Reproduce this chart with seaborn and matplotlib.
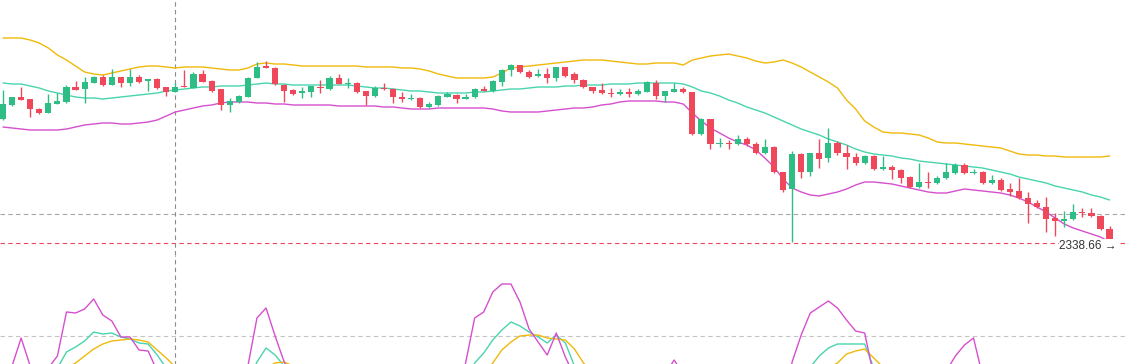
import numpy as np
import pandas as pd
import seaborn as sns
import matplotlib.pyplot as plt

# OHLC per candle
opens = [
    2369.66, 2373.16, 2375.16, 2374.66, 2372.16, 2371.16, 2373.41, 2373.91, 2377.66, 2377.16,
    2378.66, 2380.16, 2378.16, 2380.16, 2378.66, 2380.16, 2379.16, 2379.66, 2377.66, 2376.41,
    2377.91, 2377.41, 2380.91, 2379.16, 2377.16, 2373.16, 2373.91, 2375.16, 2379.91, 2382.91,
    2382.41, 2378.16, 2376.91, 2376.16, 2376.41, 2377.66, 2377.16, 2379.91, 2378.41, 2378.66,
    2376.66, 2375.41, 2377.41, 2377.16, 2375.16, 2374.66, 2374.91, 2372.66, 2373.16, 2375.16,
    2375.66, 2374.66, 2375.16, 2377.16, 2376.66, 2378.91, 2381.91, 2383.16, 2381.41, 2380.41,
    2380.91, 2379.91, 2382.66, 2380.91, 2379.41, 2377.66, 2376.91, 2376.16, 2375.91, 2376.41,
    2375.91, 2376.41, 2378.66, 2375.41, 2376.41, 2377.16, 2376.41, 2365.91, 2369.66, 2363.41,
    2363.66, 2363.41, 2364.66, 2363.41, 2361.16, 2362.66, 2356.41, 2352.16, 2360.91, 2356.41,
    2361.16, 2359.91, 2363.66, 2361.16, 2360.16, 2358.66, 2360.41, 2357.16, 2357.66, 2356.91,
    2355.16, 2352.66, 2353.91, 2353.66, 2354.91, 2356.16, 2358.16, 2356.16, 2356.41, 2353.66,
    2354.41, 2352.16, 2351.66, 2349.91, 2348.66, 2347.66, 2344.91, 2344.16, 2344.66, 2346.41,
    2346.16, 2345.41, 2342.16]
highs = [
    2376.91, 2375.16, 2377.66, 2374.66, 2372.41, 2375.91, 2376.16, 2378.16, 2379.16, 2380.16,
    2380.41, 2380.66, 2382.16, 2380.16, 2382.16, 2380.66, 2379.66, 2379.91, 2377.66, 2378.66,
    2381.91, 2381.41, 2381.91, 2379.41, 2377.16, 2374.91, 2375.66, 2380.16, 2383.91, 2384.16,
    2382.66, 2378.41, 2377.16, 2377.66, 2377.91, 2379.41, 2380.41, 2380.91, 2379.91, 2378.91,
    2376.66, 2377.91, 2378.66, 2377.41, 2376.41, 2375.91, 2375.16, 2373.91, 2375.66, 2376.41,
    2375.91, 2375.91, 2377.41, 2377.91, 2379.41, 2382.16, 2383.41, 2383.16, 2381.91, 2382.16,
    2382.41, 2382.66, 2382.66, 2381.41, 2379.66, 2377.66, 2378.66, 2377.41, 2377.16, 2377.41,
    2377.16, 2379.16, 2379.41, 2376.66, 2378.66, 2377.66, 2376.41, 2369.91, 2369.66, 2364.91,
    2364.41, 2365.66, 2365.16, 2363.91, 2364.66, 2362.91, 2356.41, 2361.66, 2361.16, 2361.16,
    2364.66, 2367.41, 2364.16, 2363.16, 2361.16, 2360.66, 2360.66, 2360.41, 2358.16, 2357.16,
    2355.41, 2358.66, 2356.41, 2355.41, 2358.66, 2358.66, 2358.66, 2357.16, 2356.66, 2355.66,
    2354.91, 2353.66, 2354.91, 2351.41, 2349.41, 2350.16, 2346.16, 2346.66, 2348.41, 2347.41,
    2347.41, 2345.66, 2342.91]
lows = [
    2369.41, 2372.91, 2374.41, 2370.16, 2370.91, 2371.16, 2373.41, 2373.66, 2376.91, 2373.66,
    2378.66, 2377.91, 2378.16, 2377.66, 2377.91, 2378.66, 2376.66, 2377.16, 2375.41, 2376.41,
    2377.66, 2377.41, 2378.91, 2376.41, 2371.91, 2371.41, 2373.66, 2375.16, 2379.91, 2382.41,
    2378.16, 2373.91, 2375.66, 2374.91, 2375.16, 2376.16, 2376.91, 2378.41, 2377.41, 2376.16,
    2373.16, 2375.16, 2376.91, 2373.66, 2373.91, 2374.41, 2372.41, 2372.41, 2372.91, 2375.16,
    2373.66, 2374.66, 2374.91, 2376.66, 2376.41, 2377.91, 2380.41, 2381.16, 2379.91, 2380.16,
    2378.66, 2379.16, 2380.16, 2378.66, 2377.41, 2376.16, 2375.91, 2375.16, 2375.66, 2375.16,
    2375.66, 2376.41, 2374.66, 2373.91, 2376.41, 2376.16, 2365.66, 2365.66, 2362.16, 2362.66,
    2362.16, 2363.16, 2362.91, 2360.91, 2360.91, 2356.16, 2351.41, 2338.91, 2354.91, 2355.41,
    2357.41, 2358.91, 2360.66, 2357.16, 2358.16, 2358.41, 2356.91, 2356.91, 2354.66, 2353.66,
    2352.41, 2352.41, 2352.41, 2353.41, 2354.66, 2355.91, 2355.91, 2355.91, 2353.41, 2353.41,
    2351.66, 2350.41, 2349.66, 2343.66, 2347.41, 2341.41, 2340.41, 2342.66, 2344.41, 2345.16,
    2345.16, 2341.91, 2338.16]
closes = [
    2373.41, 2375.16, 2374.41, 2372.16, 2371.16, 2373.66, 2374.16, 2377.66, 2376.91, 2378.91,
    2380.16, 2378.16, 2380.16, 2378.66, 2380.16, 2378.91, 2379.66, 2377.41, 2376.41, 2377.66,
    2377.66, 2380.91, 2378.91, 2376.66, 2373.16, 2374.16, 2375.41, 2379.91, 2382.66, 2382.41,
    2378.41, 2376.66, 2375.91, 2376.66, 2377.91, 2377.41, 2379.91, 2378.41, 2378.66, 2376.41,
    2375.41, 2377.41, 2377.16, 2375.16, 2374.66, 2374.91, 2372.66, 2373.41, 2375.41, 2375.91,
    2374.66, 2375.16, 2377.16, 2376.66, 2379.16, 2381.91, 2383.16, 2381.41, 2380.16, 2380.91,
    2379.91, 2382.66, 2380.41, 2379.41, 2377.66, 2376.66, 2376.16, 2375.91, 2376.41, 2375.91,
    2376.66, 2378.91, 2375.41, 2376.66, 2377.16, 2376.41, 2365.91, 2369.66, 2363.41, 2363.66,
    2363.41, 2364.66, 2363.41, 2361.16, 2362.66, 2356.41, 2351.91, 2360.91, 2356.41, 2361.16,
    2359.66, 2363.66, 2361.16, 2360.16, 2358.66, 2360.41, 2357.16, 2357.66, 2356.91, 2354.91,
    2352.66, 2353.91, 2353.66, 2354.91, 2356.41, 2358.16, 2356.16, 2356.41, 2353.66, 2354.41,
    2351.91, 2351.41, 2349.91, 2348.41, 2347.66, 2344.66, 2344.16, 2344.66, 2346.41, 2346.16,
    2345.41, 2342.16, 2338.66]

# Bollinger bands
boll_up = [
    2389.91, 2389.91, 2389.91, 2389.41, 2388.66, 2387.41, 2385.66, 2384.41, 2382.91, 2381.41,
    2380.91, 2380.66, 2381.16, 2381.66, 2382.16, 2382.66, 2382.91, 2382.91, 2382.66, 2382.41,
    2382.66, 2382.66, 2382.66, 2382.41, 2382.16, 2381.91, 2381.91, 2382.41, 2383.41, 2383.66,
    2383.41, 2383.41, 2383.16, 2382.91, 2382.91, 2382.91, 2382.91, 2382.91, 2382.91, 2382.91,
    2382.66, 2382.66, 2382.66, 2382.66, 2382.41, 2382.41, 2382.16, 2381.66, 2380.91, 2380.41,
    2379.91, 2379.91, 2379.91, 2379.91, 2380.16, 2381.16, 2382.41, 2382.66, 2382.91, 2383.16,
    2383.41, 2383.66, 2383.91, 2384.16, 2384.41, 2384.41, 2384.41, 2384.16, 2383.91, 2383.66,
    2383.41, 2383.41, 2383.66, 2383.66, 2383.66, 2383.16, 2384.41, 2384.91, 2385.41, 2385.66,
    2385.91, 2385.41, 2384.91, 2384.16, 2383.66, 2383.91, 2384.41, 2383.66, 2382.66, 2381.41,
    2380.16, 2378.91, 2377.41, 2374.41, 2372.16, 2369.16, 2367.66, 2366.41, 2366.16, 2366.16,
    2365.91, 2365.66, 2364.91, 2363.91, 2363.66, 2363.66, 2363.41, 2363.16, 2362.91, 2362.66,
    2362.41, 2361.66, 2360.91, 2360.66, 2360.66, 2360.41, 2360.41, 2360.16, 2360.16, 2360.16,
    2360.16, 2360.16, 2360.41]
boll_mid = [
    2378.66, 2378.41, 2378.41, 2377.91, 2377.41, 2376.66, 2376.16, 2375.66, 2375.16, 2374.91,
    2374.91, 2374.66, 2374.91, 2375.16, 2375.41, 2375.66, 2375.91, 2376.16, 2376.66, 2376.91,
    2377.16, 2377.41, 2377.66, 2377.66, 2377.91, 2377.91, 2377.91, 2378.16, 2378.41, 2378.66,
    2378.41, 2378.41, 2378.16, 2378.16, 2378.16, 2378.16, 2378.16, 2378.16, 2378.16, 2377.91,
    2377.66, 2377.41, 2377.41, 2377.16, 2376.91, 2376.66, 2376.66, 2376.41, 2376.16, 2376.16,
    2376.16, 2376.16, 2376.41, 2376.41, 2376.66, 2376.91, 2377.16, 2377.16, 2377.41, 2377.66,
    2377.66, 2377.66, 2377.91, 2377.91, 2378.16, 2378.16, 2378.16, 2378.41, 2378.41, 2378.41,
    2378.66, 2378.66, 2378.66, 2378.66, 2378.66, 2378.41, 2377.66, 2376.66, 2376.16, 2375.41,
    2374.41, 2373.66, 2372.66, 2371.91, 2371.16, 2370.16, 2369.16, 2368.16, 2367.16, 2366.41,
    2365.66, 2364.66, 2363.91, 2363.16, 2362.16, 2361.41, 2360.91, 2360.66, 2360.41, 2359.91,
    2359.66, 2359.16, 2358.91, 2358.66, 2358.41, 2358.16, 2357.91, 2357.66, 2357.41, 2356.91,
    2356.41, 2355.91, 2355.16, 2354.66, 2354.16, 2353.66, 2352.91, 2352.41, 2351.91, 2351.41,
    2350.66, 2350.16, 2349.41]
boll_low = [
    2367.66, 2367.41, 2367.16, 2366.91, 2366.91, 2366.91, 2366.91, 2367.16, 2367.66, 2368.16,
    2368.41, 2368.66, 2368.66, 2368.41, 2368.41, 2368.66, 2368.91, 2369.41, 2370.41, 2371.41,
    2371.91, 2372.41, 2372.91, 2373.16, 2373.66, 2373.91, 2373.91, 2373.91, 2373.66, 2373.66,
    2373.41, 2373.41, 2373.16, 2373.16, 2373.16, 2373.16, 2373.16, 2372.91, 2372.91, 2372.91,
    2372.91, 2372.91, 2372.66, 2372.66, 2372.41, 2372.16, 2372.16, 2372.16, 2372.41, 2372.41,
    2372.41, 2372.41, 2372.41, 2372.41, 2372.16, 2371.66, 2371.41, 2371.41, 2371.41, 2371.41,
    2371.66, 2371.91, 2372.16, 2372.41, 2372.41, 2372.66, 2373.16, 2373.41, 2373.91, 2374.16,
    2374.16, 2374.16, 2374.16, 2373.91, 2373.91, 2373.41, 2371.16, 2369.16, 2367.41, 2366.16,
    2364.91, 2363.91, 2363.16, 2361.91, 2359.91, 2357.66, 2354.66, 2352.41, 2351.41, 2350.66,
    2350.41, 2350.91, 2351.41, 2352.16, 2353.16, 2353.91, 2353.91, 2353.66, 2353.41, 2352.91,
    2352.41, 2351.91, 2351.41, 2351.16, 2351.16, 2351.66, 2352.16, 2351.91, 2351.66, 2351.41,
    2351.16, 2350.66, 2349.91, 2348.91, 2347.66, 2346.41, 2344.91, 2343.41, 2342.41, 2341.66,
    2340.91, 2340.16, 2338.91]

# KDJ
k_vals = [
    40, 42, 48, 45, 40, 42, 48, 64, 69, 75,
    84, 82, 83, 79, 77, 73, 72, 61, 48, 40,
    38, 42, 40, 33, 25, 22, 25, 35, 54, 68,
    61, 50, 47, 45, 45, 43, 45, 43, 41, 36,
    30, 30, 28, 24, 20, 18, 14, 13, 16, 20,
    21, 30, 53, 63, 76, 86, 94, 90, 84, 79,
    73, 81, 73, 50, 42, 32, 25, 20, 18, 17,
    19, 26, 28, 32, 40, 40, 28, 22, 14, 10,
    8, 10, 11, 11, 14, 11, 8, 24, 40, 49,
    60, 68, 72, 72, 72, 72, 48, 45, 38, 30,
    22, 21, 20, 23, 30, 40, 48, 50, 46, 44,
    36, 29, 23, 17, 12, 7, 5, 6, 12, 16,
    18, 15, 10]
d_vals = [
    45, 44, 45, 45, 43, 43, 45, 48, 53, 60,
    67, 72, 75, 76, 77, 76, 74, 66, 58, 49,
    46, 45, 43, 40, 35, 31, 29, 31, 39, 48,
    53, 54, 50, 49, 47, 46, 46, 45, 43, 41,
    37, 35, 33, 30, 27, 24, 21, 18, 17, 18,
    19, 23, 33, 43, 53, 66, 74, 80, 81, 81,
    78, 77, 76, 67, 53, 45, 38, 32, 28, 24,
    22, 23, 25, 27, 31, 34, 32, 28, 23, 19,
    15, 13, 12, 12, 13, 12, 11, 15, 24, 33,
    42, 48, 53, 62, 65, 67, 58, 49, 46, 42,
    35, 30, 27, 25, 27, 31, 37, 41, 43, 43,
    41, 37, 32, 27, 22, 17, 13, 11, 11, 13,
    15, 15, 13]
j_vals = [
    40, 50, 78, 50, 35, 48, 60, 104, 103, 107,
    117, 101, 95, 79, 79, 66, 65, 45, 28, 20,
    25, 38, 32, 18, 5, 12, 22, 50, 98, 108,
    80, 54, 38, 35, 40, 36, 44, 38, 35, 25,
    15, 22, 20, 12, 8, 10, 2, 6, 18, 24,
    20, 53, 98, 104, 124, 132, 132, 114, 87, 74,
    61, 83, 59, 40, 22, 10, 6, 4, 10, 12,
    20, 38, 34, 42, 56, 42, 5, 8, -5, 0,
    4, 14, 16, 10, 20, 6, -2, 54, 81, 103,
    109, 115, 108, 96, 85, 83, 40, 35, 22, 12,
    6, 18, 20, 28, 45, 60, 71, 78, 40, 38,
    22, 14, 10, 4, 2, -4, 0, 8, 22, 26,
    24, 10, -2]

last_price = 2338.66
ref_level = 2345.91
kdj_level = 80
cross_idx = 19

GREEN = '#2ebd85'
RED = '#f0485b'
ORANGE = '#f0b90b'
TEAL = '#48d4ad'
MAGENTA = '#d64fce'

sns.set_style("white")
plt.rcParams['font.family'] = ['Liberation Sans', 'DejaVu Sans']
plt.rcParams['path.simplify'] = False

df = pd.DataFrame({'open': opens, 'high': highs, 'low': lows, 'close': closes,
                   'up': boll_up, 'mid': boll_mid, 'dn': boll_low,
                   'k': k_vals, 'd': d_vals, 'j': j_vals})
df['idx'] = np.arange(len(df))

fig = plt.figure(figsize=(11.25, 3.64), dpi=100)
ax = fig.add_axes([0, 109 / 364, 1, 255 / 364])
# indicator panel runs on below the picture edge, so only its top shows
ax2 = fig.add_axes([0, -1.0, 1, 1.0 + 109 / 364])

# candles
colors = np.where(df['close'] >= df['open'], GREEN, RED)
ax.vlines(df['idx'], df['low'], df['high'], colors=colors, lw=1, zorder=3)
body = (df['close'] - df['open']).abs().clip(lower=0.3)
ax.bar(df['idx'], body, bottom=df[['open', 'close']].min(axis=1),
       width=0.68, color=colors, linewidth=0, zorder=4)

sns.lineplot(data=df, x='idx', y='up', ax=ax, color=ORANGE, lw=1, zorder=2)
sns.lineplot(data=df, x='idx', y='mid', ax=ax, color=TEAL, lw=1, zorder=2)
sns.lineplot(data=df, x='idx', y='dn', ax=ax, color=MAGENTA, lw=1, zorder=2)

ax.axhline(ref_level, color='#a5a5a5', ls=(0, (4, 3)), lw=0.8, zorder=1)
ax.axhline(last_price, color=RED, ls=(0, (4, 3)), lw=0.8, zorder=1)
ax.text(122.8, 2337.9, f'{last_price:.2f} →', ha='right', va='center',
        fontsize=8.5, color='#333333', zorder=6,
        bbox=dict(fc='white', ec='none', pad=0.6))

# KDJ panel
sns.lineplot(data=df, x='idx', y='k', ax=ax2, color=TEAL, lw=1)
sns.lineplot(data=df, x='idx', y='d', ax=ax2, color=ORANGE, lw=1)
sns.lineplot(data=df, x='idx', y='j', ax=ax2, color=MAGENTA, lw=1)
ax2.axhline(kdj_level, color='#c4c4c4', ls=(0, (4, 3)), lw=0.8, zorder=1)

for a in (ax, ax2):
    a.axvline(cross_idx, color='#8c8c8c', ls=(0, (4, 3)), lw=0.8, zorder=1)
    a.set_xlim(-0.33, 123.7)
    a.set_axis_off()

ax.set_ylim(2335.66, 2399.41)
ax2.set_ylim(161 - 473, 161)

plt.savefig('out.png', dpi=100)
